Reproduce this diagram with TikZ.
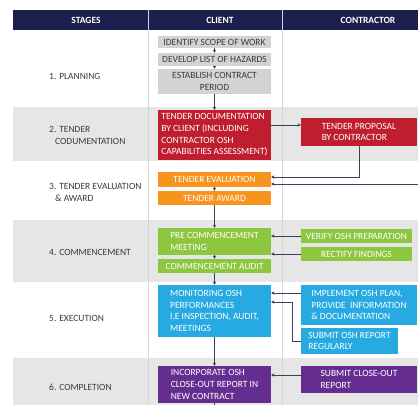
\documentclass[tikz,border=0pt]{standalone}
\usepackage{fontspec}
\setmainfont{Carlito}
\usetikzlibrary{arrows.meta}
\definecolor{navy}{HTML}{1C1F4E}
\definecolor{band}{HTML}{E6E6E6}
\definecolor{rulec}{HTML}{D6D6D6}
\definecolor{grbox}{HTML}{D3D3D3}
\definecolor{txt}{HTML}{3A3A3A}
\definecolor{osred}{HTML}{BE1E2D}
\definecolor{osorange}{HTML}{F7941D}
\definecolor{osgreen}{HTML}{8DC63F}
\definecolor{osblue}{HTML}{27AAE1}
\definecolor{ospurple}{HTML}{662D91}
\definecolor{arrowc}{HTML}{3B3F5E}
\tikzset{
  box/.style={inner sep=0.5pt, align=left, text=white, minimum width=113pt,
    font=\fontsize{9.5}{11.7}\selectfont},
  stage/.style={anchor=west, align=left, inner sep=0pt, text=txt, font=\fontsize{9.5}{12}\selectfont},
  head/.style={text=white, font=\bfseries\fontsize{9.5}{10}\selectfont},
  flow/.style={draw=arrowc, line width=0.6pt, -{Stealth[length=3.2pt,width=3.4pt]}}
}
\begin{document}
\begin{tikzpicture}[x=1pt,y=-1pt]
\useasboundingbox (0,0) rectangle (418,405);
\fill[band] (13,107) rectangle (418,161);
\fill[band] (13,220) rectangle (418,282);
\fill[band] (13,358) rectangle (418,405);
\fill[navy] (13,10) rectangle (418,30);
\draw[rulec, line width=0.6pt] (148,10) -- (148,405) (282,10) -- (282,405);
\node[head] (hstage) at (86,20) {STAGES};
\node[head] (hclient) at (220,20) {CLIENT};
\node[head] (hcontr) at (368,20) {CONTRACTOR};

\node[stage] (s1) at (49,76) {1. PLANNING};
\node[stage] (s2) at (49,135.5) {2. TENDER\\\hspace*{6pt}CODUMENTATION};
\node[stage] (s3) at (49,192) {3. TENDER EVALUATION\\\hspace*{6pt}\& AWARD};
\node[stage] (s4) at (49,252) {4. COMMENCEMENT};
\node[stage] (s5) at (49,318) {5. EXECUTION};
\node[stage] (s6) at (49,387) {6. COMPLETION};

\node[box, fill=grbox, text=txt, minimum height=12pt] (scope) at (214.5,42) {IDENTIFY SCOPE OF WORK};
\node[box, fill=grbox, text=txt, minimum height=13pt] (hazards) at (214.5,59.5) {DEVELOP LIST OF HAZARDS};
\node[box, fill=grbox, text=txt, align=center, minimum height=25pt] (period) at (214.5,81.5) {ESTABLISH CONTRACT\\PERIOD};
\node[box, fill=osred, minimum height=50pt] (tdoc) at (214.5,135) {TENDER DOCUMENTATION\\BY CLIENT (INCLUDING\\CONTRACTOR OSH\\CAPABILITIES ASSESSMENT)};
\node[box, fill=osred, minimum width=116pt, minimum height=28pt] (tprop) at (359,132) {TENDER PROPOSAL\\BY CONTRACTOR};
\node[box, fill=osorange, minimum height=15pt] (teval) at (214.5,179.5) {TENDER EVALUATION};
\node[box, fill=osorange, minimum height=14pt] (taward) at (214.5,198) {TENDER AWARD};
\node[box, fill=osgreen, minimum height=27pt] (precom) at (214.5,241.5) {PRE COMMENCEMENT\\MEETING};
\node[box, fill=osgreen, minimum height=14pt] (caudit) at (214.5,266) {COMMENCEMENT AUDIT};
\node[box, fill=osgreen, minimum width=111pt, minimum height=14pt] (verify) at (356.5,236) {VERIFY OSH PREPARATION};
\node[box, fill=osgreen, minimum width=111pt, minimum height=14pt] (rectify) at (356.5,254) {RECTIFY FINDINGS};
\node[box, fill=osblue, minimum height=52pt] (monitor) at (214.5,311) {MONITORING OSH\\PERFORMANCES\\I.E INSPECTION, AUDIT,\\MEETINGS};
\node[box, fill=osblue, minimum width=116pt, minimum height=40pt] (implement) at (359,305) {IMPLEMENT OSH PLAN,\\PROVIDE\ \ INFORMATION\\\& DOCUMENTATION};
\node[box, fill=osblue, minimum width=97pt, minimum height=26pt] (submit) at (349.5,341) {SUBMIT OSH REPORT\\REGULARLY};
\node[box, fill=ospurple, minimum height=37pt] (incorp) at (214.5,384.5) {INCORPORATE OSH\\CLOSE-OUT REPORT IN\\NEW CONTRACT};
\node[box, fill=ospurple, minimum width=116pt, minimum height=27pt] (closeout) at (359,379.5) {SUBMIT CLOSE-OUT\\REPORT};
\coordinate (edge) at (418,184);
\coordinate (offpage) at (214.5,405);

\draw[flow] (scope) -- (hazards);
\draw[flow] (hazards) -- (period);
\draw[flow] (period) -- (tdoc);
\draw[flow] ([yshift=10pt]tdoc.east) -- ([yshift=7pt]tprop.west);
\draw[flow] (tprop.south) |- ([yshift=2.5pt]teval.east);
\draw[flow] (edge) -- ([yshift=-4.5pt]teval.east);
\draw[flow] (teval) -- (taward);
\draw[flow] (taward) -- (precom);
\draw[flow] (verify.west) -- ([yshift=5.5pt]precom.east);
\draw[flow] (rectify.west) -- ([yshift=-12.5pt]precom.east);
\draw[flow] (precom) -- (caudit);
\draw[flow] (caudit) -- (monitor);
\draw[flow] ([yshift=12pt]implement.west) -- ([yshift=18pt]monitor.east);
\draw[flow] (submit.west) -- ++(-9,0) |- ([yshift=9pt]monitor.east);
\draw[flow] (monitor) -- (incorp);
\draw[flow] ([yshift=4.5pt]closeout.west) -- ([yshift=9.5pt]incorp.east);
\draw[arrowc, line width=0.6pt] (incorp) -- (offpage);
\end{tikzpicture}
\end{document}
